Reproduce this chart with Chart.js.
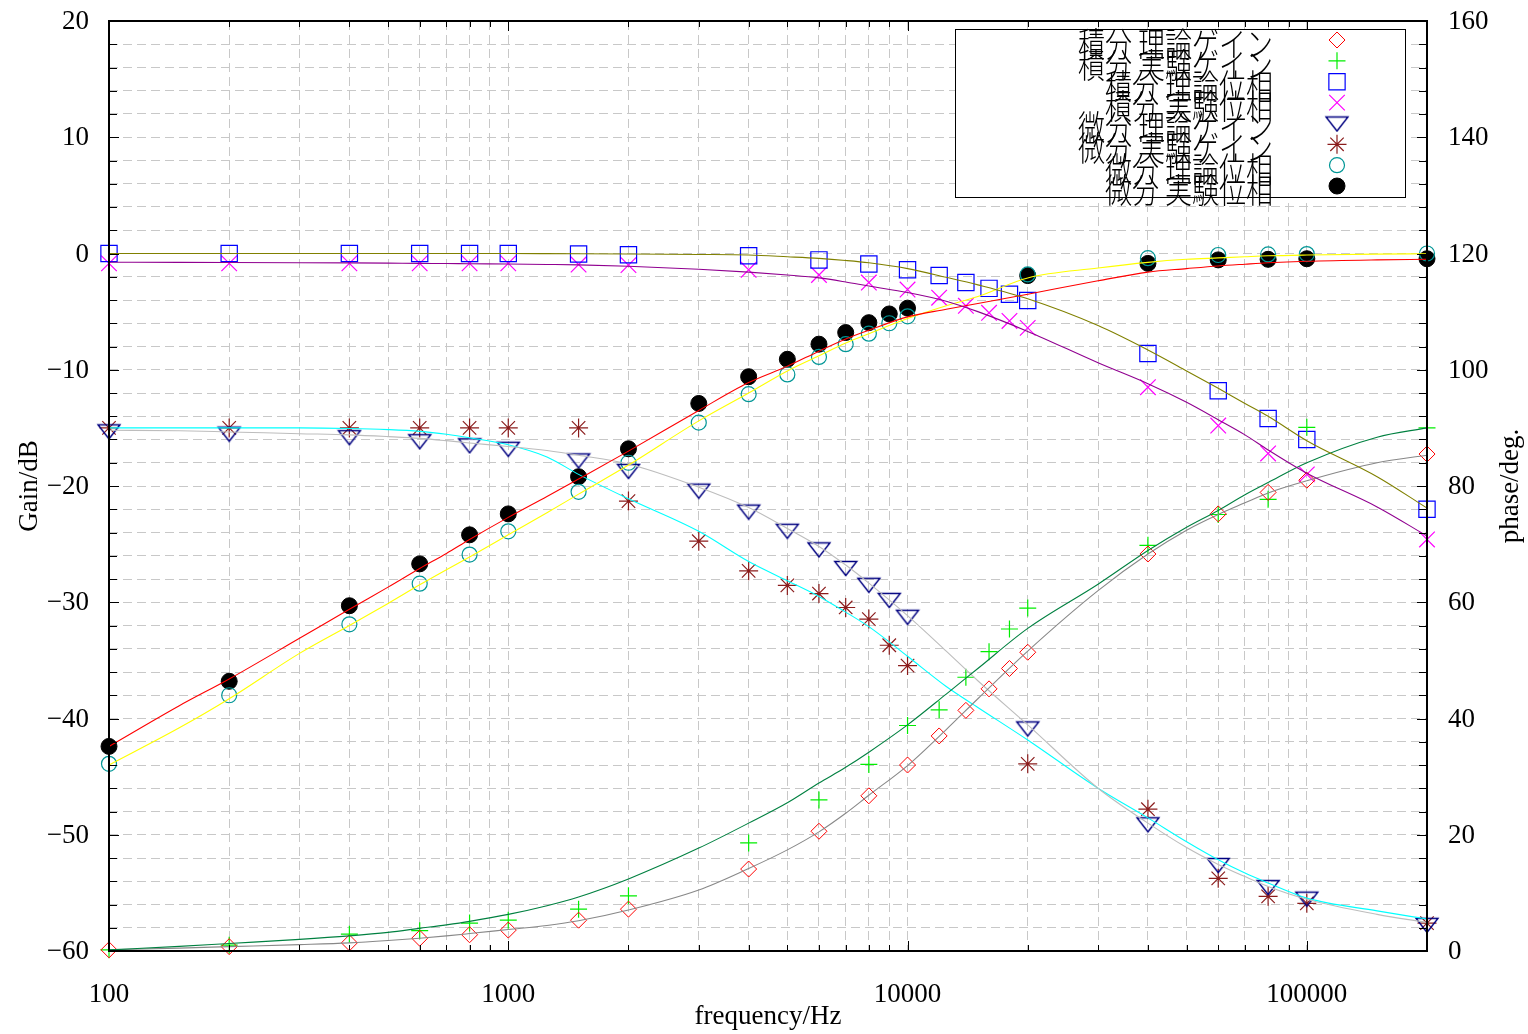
<!DOCTYPE html>
<html><head><meta charset="utf-8">
<script src="https://cdn.jsdelivr.net/npm/chart.js@4.4.1/dist/chart.umd.min.js"></script>
<style>html,body{margin:0;padding:0;background:#fff;overflow:hidden}canvas{display:block}</style>
</head><body>
<canvas id="c" width="1528" height="1034"></canvas>
<script>
// ---------- data ----------
const legendLabels = ['積分 理論ゲイン','積分 実験ゲイン','積分 理論位相','積分 実験位相','微分 理論ゲイン','微分 実験ゲイン','微分 理論位相','微分 実験位相'];

const freqInt  = [100,200,400,600,800,1000,1500,2000,4000,6000,8000,10000,12000,14000,16000,18000,20000,40000,60000,80000,100000,200000];
const intTheoGain  = [0.2,0.75,1.4,2.2,2.8,3.6,5.3,7.2,14.1,20.6,26.7,32.0,37.0,41.4,45.1,48.6,51.4,68.3,75.2,78.9,81.0,85.5];
const intExpGain   = [0.2,1.0,2.9,3.5,4.8,5.3,7.2,9.5,18.6,26.0,32.1,38.8,41.5,47.1,51.5,55.4,59.0,69.8,75.1,77.7,90.1,90.0];
const intTheoPhase = [0,0,0,0,0,0,-0.05,-0.1,-0.2,-0.55,-0.9,-1.4,-1.9,-2.5,-3.0,-3.5,-4.05,-8.6,-11.8,-14.2,-16.0,-22.0];
const intExpPhase  = [-0.85,-0.85,-0.85,-0.85,-0.85,-0.85,-0.95,-1.0,-1.4,-1.85,-2.5,-3.1,-3.8,-4.5,-5.1,-5.8,-6.4,-11.5,-14.8,-17.2,-19.0,-24.6];

const freqDiff = [100,200,400,600,800,1000,1500,2000,3000,4000,5000,6000,7000,8000,9000,10000,20000,40000,60000,80000,100000,200000];
const diffTheoGain  = [89.4,89.0,88.4,87.7,87.0,86.4,84.4,82.6,79.2,75.6,72.3,69.1,65.9,63.0,60.4,57.5,38.3,21.8,14.8,11.0,9.0,4.5];
const diffExpGain   = [90.0,90.0,90.0,90.0,90.0,90.0,90.0,77.4,70.5,65.4,62.9,61.5,59.1,57.1,52.6,49.1,32.2,24.4,12.5,9.4,8.2,4.8];
const diffTheoPhase = [-43.9,-38.0,-31.9,-28.4,-25.9,-23.9,-20.5,-18.0,-14.55,-12.1,-10.4,-8.9,-7.8,-6.9,-6.0,-5.4,-1.8,-0.4,-0.13,-0.08,-0.05,0];
const diffExpPhase  = [-42.4,-36.8,-30.3,-26.7,-24.2,-22.4,-19.2,-16.8,-12.9,-10.6,-9.1,-7.8,-6.8,-5.95,-5.2,-4.7,-1.9,-0.85,-0.55,-0.5,-0.45,-0.45];

// fitted curves, read at these frequencies
const lineFreq = [100,150,200,300,400,500,600,700,800,1000,1250,1500,2000,3000,4000,5000,6000,7000,8000,10000,12500,15000,20000,30000,40000,50000,60000,70000,80000,100000,150000,200000];
const fitIntTheoPhase  = [0,0,0,0,0,0,0,0,0,0,-0.01,-0.02,-0.04,-0.08,-0.13,-0.28,-0.42,-0.6,-0.8,-1.3,-2.05,-2.7,-3.9,-6.2,-8.3,-10.1,-11.6,-12.9,-14.0,-16.1,-19.2,-21.9];
const fitIntExpPhase   = [-0.75,-0.76,-0.77,-0.79,-0.81,-0.83,-0.85,-0.86,-0.88,-0.9,-0.94,-0.98,-1.1,-1.35,-1.6,-1.85,-2.1,-2.45,-2.8,-3.35,-4.1,-5.0,-6.7,-9.4,-11.2,-12.8,-14.3,-15.6,-16.9,-18.9,-21.8,-24.3];
const fitDiffExpPhase  = [-42.4,-38.9,-36.6,-33.1,-30.6,-28.7,-27.1,-25.8,-24.6,-22.7,-20.9,-19.4,-17.0,-13.5,-11.1,-9.7,-8.4,-7.35,-6.6,-5.45,-4.8,-4.3,-3.5,-2.35,-1.6,-1.3,-1.07,-0.92,-0.8,-0.67,-0.55,-0.5];
const fitDiffTheoPhase = [-44.0,-40.8,-38.3,-34.4,-32.0,-30.1,-28.5,-27.2,-26.1,-24.2,-22.3,-20.7,-18.2,-14.4,-12.0,-10.1,-8.8,-7.7,-6.9,-5.6,-4.5,-3.7,-2.1,-1.25,-0.76,-0.5,-0.38,-0.28,-0.2,-0.13,-0.05,-0.02];
const fitIntExpGain    = [0.2,0.8,1.3,2.0,2.6,3.2,3.9,4.5,5.1,6.3,7.8,9.3,12.4,17.7,22.0,25.5,28.9,31.6,34.2,38.9,44.2,48.6,55.5,63.1,68.9,72.9,75.8,78.5,80.6,84.0,88.4,90.0];
const fitIntTheoGain   = [0.2,0.5,0.75,1.1,1.4,1.8,2.2,2.6,3.0,3.7,4.4,5.2,7.05,10.5,14.2,17.4,20.5,23.7,26.8,31.9,38.1,43.4,51.6,62.0,68.3,72.4,75.1,77.1,78.8,80.9,84.0,85.3];
const fitDiffTheoGain  = [89.6,89.5,89.3,89.0,88.8,88.5,88.2,87.8,87.4,86.8,86.1,85.3,83.8,79.8,76.3,72.7,69.6,66.4,63.3,57.7,51.6,46.5,38.9,28.0,22.0,17.8,14.9,12.8,11.1,8.9,6.3,4.9];
const fitDiffExpGain   = [90.0,90.0,90.0,90.0,89.9,89.7,89.4,88.9,88.3,87.1,85.0,82.0,77.8,72.2,67.0,63.7,61.0,58.3,55.8,50.7,45.5,41.9,36.3,28.0,22.9,18.8,15.7,13.4,11.7,9.1,6.9,5.5];

// axes / ticks
const xTickValues = [];
for (let e = 100; e <= 10000; e *= 10) for (let m = 1; m <= 9; m++) xTickValues.push(m * e);
xTickValues.push(100000, 200000);
const xLabelValues = [100, 1000, 10000, 100000];
const yLabelValues = [-60, -50, -40, -30, -20, -10, 0, 10, 20];
const y2LabelValues = [0, 20, 40, 60, 80, 100, 120, 140, 160];
const yRange = [-60, 20], y2Range = [0, 160];
const xTitle = 'frequency/Hz', yTitle = 'Gain/dB', y2Title = 'phase/deg.';

// ---------- styling ----------
const SERIF = '"Liberation Serif", "DejaVu Serif", serif';
function triangleDown(color) {
  const c = document.createElement('canvas'); c.width = 26; c.height = 18;
  const g = c.getContext('2d'); g.strokeStyle = color; g.lineWidth = 1.4;
  g.beginPath(); g.moveTo(2, 2.5); g.lineTo(24, 2.5); g.lineTo(13, 16.5); g.closePath(); g.stroke();
  return c;
}
const pts = (xs, ys) => xs.map((x, i) => ({x, y: ys[i]}));
const markerStyles = [
  {data: intTheoGain,  f: freqInt,  axis: 'y2', pointStyle: 'rectRot',  radius: 8,   color: '#ff0000', fill: 'rgba(0,0,0,0)', bw: 1},
  {data: intExpGain,   f: freqInt,  axis: 'y2', pointStyle: 'cross',    radius: 8.5, color: '#00ee00', fill: 'rgba(0,0,0,0)', bw: 1.2},
  {data: intTheoPhase, f: freqInt,  axis: 'y',  pointStyle: 'rect',     radius: 11.5,color: '#0000ff', fill: 'rgba(0,0,0,0)', bw: 1.2},
  {data: intExpPhase,  f: freqInt,  axis: 'y',  pointStyle: 'crossRot', radius: 11,  color: '#ff00ff', fill: 'rgba(0,0,0,0)', bw: 1.2},
  {data: diffTheoGain, f: freqDiff, axis: 'y2', pointStyle: triangleDown('#000080'), radius: 10, color: '#000080', fill: 'rgba(0,0,0,0)', bw: 1},
  {data: diffExpGain,  f: freqDiff, axis: 'y2', pointStyle: 'star',     radius: 9.5, color: '#8b1c1c', fill: 'rgba(0,0,0,0)', bw: 1.2},
  {data: diffTheoPhase,f: freqDiff, axis: 'y',  pointStyle: 'circle',   radius: 7.5, color: '#009696', fill: 'rgba(0,0,0,0)', bw: 1.2},
  {data: diffExpPhase, f: freqDiff, axis: 'y',  pointStyle: 'circle',   radius: 8,   color: '#000000', fill: '#000000', bw: 1}
];
const lineStyles = [
  {data: fitIntTheoPhase,  axis: 'y',  color: '#808000'},
  {data: fitIntExpPhase,   axis: 'y',  color: '#900090'},
  {data: fitDiffExpPhase,  axis: 'y',  color: '#ff0000'},
  {data: fitDiffTheoPhase, axis: 'y',  color: '#ffff00'},
  {data: fitIntExpGain,    axis: 'y2', color: '#008040'},
  {data: fitIntTheoGain,   axis: 'y2', color: '#888888'},
  {data: fitDiffTheoGain,  axis: 'y2', color: '#bdbdbd'},
  {data: fitDiffExpGain,   axis: 'y2', color: '#00ffff'}
];

const datasets = [];
lineStyles.forEach(s => datasets.push({
  data: pts(lineFreq, s.data), yAxisID: s.axis, borderColor: s.color, borderWidth: 1.1,
  pointRadius: 0, showLine: true, fill: false, cubicInterpolationMode: 'monotone'
}));
markerStyles.forEach(s => datasets.push({
  data: pts(s.f, s.data), yAxisID: s.axis, showLine: false, pointStyle: s.pointStyle,
  pointRadius: s.radius, pointBorderColor: s.color, pointBackgroundColor: s.fill,
  pointBorderWidth: s.bw, clip: false
}));

const fmt = v => (v < 0 ? '\u2212' + Math.abs(v) : String(v));

const framePlugin = {
  id: 'frame',
  afterDraw(chart) {
    const {ctx, chartArea: a, scales} = chart;
    ctx.save();
    // inward ticks
    ctx.strokeStyle = '#000'; ctx.lineWidth = 1;
    ctx.beginPath();
    for (let v = yRange[0]; v <= yRange[1]; v += 2) {
      const y = Math.round(scales.y.getPixelForValue(v)) + 0.5;
      const len = v % 10 === 0 ? 10 : 8;
      ctx.moveTo(a.left, y); ctx.lineTo(a.left + len, y);
    }
    for (let v = y2Range[0]; v <= y2Range[1]; v += 4) {
      const y = Math.round(scales.y2.getPixelForValue(v)) + 0.5;
      const len = v % 20 === 0 ? 10 : 8;
      ctx.moveTo(a.right, y); ctx.lineTo(a.right - len, y);
    }
    xTickValues.forEach(v => {
      const x = Math.round(scales.x.getPixelForValue(v)) + 0.5;
      const len = xLabelValues.includes(v) ? 10 : 6;
      ctx.moveTo(x, a.bottom); ctx.lineTo(x, a.bottom - len);
      ctx.moveTo(x, a.top); ctx.lineTo(x, a.top + len);
    });
    ctx.stroke();
    // border
    ctx.lineWidth = 2;
    ctx.strokeRect(a.left, a.top, a.right - a.left, a.bottom - a.top);
    // tick labels
    ctx.fillStyle = '#000';
    ctx.font = '27px ' + SERIF;
    ctx.textBaseline = 'middle';
    ctx.textAlign = 'right';
    yLabelValues.forEach(v => ctx.fillText(fmt(v), a.left - 20, scales.y.getPixelForValue(v) + 1));
    ctx.textAlign = 'left';
    y2LabelValues.forEach(v => ctx.fillText(fmt(v), a.right + 21, scales.y2.getPixelForValue(v) + 1));
    ctx.textAlign = 'center';
    xLabelValues.forEach(v => ctx.fillText(String(v), scales.x.getPixelForValue(v), a.bottom + 44));
    // axis titles
    ctx.fillText(xTitle, (a.left + a.right) / 2, a.bottom + 66);
    const cy = (a.top + a.bottom) / 2;
    ctx.save(); ctx.translate(a.left - 79, cy); ctx.rotate(-Math.PI / 2); ctx.fillText(yTitle, 0, 0); ctx.restore();
    ctx.save(); ctx.translate(a.right + 84, cy); ctx.rotate(-Math.PI / 2); ctx.fillText(y2Title, 0, 0); ctx.restore();
    // legend
    const lx = a.right - 472, ly = a.top + 8, lw = 450, lh = 168;
    ctx.fillStyle = '#fff'; ctx.fillRect(lx, ly, lw, lh);
    ctx.strokeStyle = '#000'; ctx.lineWidth = 1;
    ctx.strokeRect(lx + 0.5, ly + 0.5, lw, lh);
    const step = 20.86;
    legendLabels.forEach((lab, i) => {
      const y = ly + 11 + i * step;
      ctx.save();
      ctx.fillStyle = '#000';
      ctx.font = '300 27px "Noto Sans CJK JP"';
      ctx.textAlign = 'right'; ctx.textBaseline = 'middle';
      ctx.translate(lx + 318, y + 4);
      ctx.scale(1, 1.25);
      ctx.fillText(lab, 0, 0);
      ctx.restore();
      const s = markerStyles[i];
      ctx.save();
      ctx.strokeStyle = s.color; ctx.fillStyle = s.fill; ctx.lineWidth = s.bw;
      Chart.helpers.drawPoint(ctx, {pointStyle: s.pointStyle, radius: s.radius, rotation: 0, borderWidth: s.bw}, lx + 382, y);
      ctx.restore();
    });
    ctx.restore();
  }
};

new Chart(document.getElementById('c'), {
  type: 'line',
  data: {datasets},
  plugins: [framePlugin],
  options: {
    responsive: false, animation: false, events: [],
    layout: {padding: {top: 21, left: 0, right: 101, bottom: 0}},
    plugins: {legend: {display: false}, tooltip: {enabled: false}},
    scales: {
      x: {
        type: 'logarithmic', position: 'bottom', min: 100, max: 200000,
        afterBuildTicks: sc => { sc.ticks = xTickValues.map(v => ({value: v})); },
        afterFit: sc => { sc.height = 83; },
        grid: {color: '#c8c8c8', lineWidth: 1, drawTicks: false},
        border: {display: false, dash: [9, 5]},
        ticks: {display: false, autoSkip: false, maxRotation: 0}
      },
      y: {
        position: 'left', min: yRange[0], max: yRange[1],
        afterFit: sc => { sc.width = 109; },
        grid: {color: '#c8c8c8', lineWidth: 1, drawTicks: false},
        border: {display: false, dash: [9, 5]},
        ticks: {display: false, stepSize: 2, autoSkip: false}
      },
      y2: {
        display: false, position: 'right', min: y2Range[0], max: y2Range[1]
      }
    }
  }
});
</script>
</body></html>
